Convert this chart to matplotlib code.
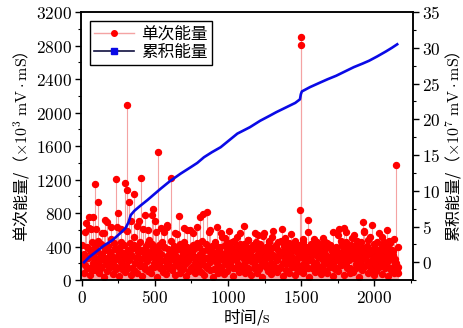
import numpy as np
import matplotlib
matplotlib.use("Agg")
import matplotlib.pyplot as plt
from matplotlib.lines import Line2D
from matplotlib.ticker import MultipleLocator, FuncFormatter

plt.rcParams['font.family'] = ['Noto Sans CJK SC', 'DejaVu Sans']
plt.rcParams['mathtext.fontset'] = 'cm'

# single-event energy: dense background, sampled every 10 s
bg_a = [240, 310, 180, 390, 260, 150, 330, 210, 280, 120, 350, 230, 170, 300, 250, 410, 190, 270, 140, 320,
        260, 200, 380, 160, 290, 340, 220, 130, 310, 270, 180, 360, 240, 300, 150, 420, 210, 280, 330, 190,
        250, 350, 170, 300, 230, 440, 280, 150, 320, 210, 370, 260, 190, 310, 240, 140, 390, 220, 290, 180,
        330, 250, 160, 300, 210, 370, 270, 140, 240, 310, 190, 350, 230, 280, 150, 320, 260, 200, 410, 170,
        290, 230, 340, 180, 270, 150, 360, 220, 300, 250, 130, 320, 200, 280, 390, 160, 240, 310, 190, 260,
        350, 210, 280, 140, 320, 240, 190, 300, 430, 170, 260, 220, 340, 150, 290, 230, 380, 200, 270, 160,
        310, 250, 180, 360, 220, 290, 140, 330, 260, 200, 300, 170, 400, 240, 280, 150, 320, 210, 350, 190,
        270, 230, 310, 160, 380, 250, 200, 340, 290, 420, 180, 260, 320, 220, 150, 360, 240, 300, 190, 330,
        210, 280, 150, 340, 250, 190, 310, 230, 400, 170, 290, 220, 350, 160, 270, 240, 320, 180, 390, 260,
        200, 330, 240, 150, 300, 270, 410, 190, 260, 340, 220, 160, 380, 250, 290, 180, 320, 230, 360, 210,
        280, 170, 340, 240, 300, 190, 370, 260, 220, 310, 150, 280, 350, 230, 190, 120, 80]
t_a = np.arange(5, 5 + 10 * len(bg_a), 10)

# mid-level events, every 10 s (offset)
bg_c = [420, 300, 580, 260, 380, 620, 330, 450, 280, 400, 350, 470, 270, 430, 310, 560, 360, 240, 410, 340,
        490, 290, 440, 370, 640, 250, 390, 460, 320, 420, 280, 590, 350, 440, 300, 380, 520, 260, 400, 330,
        450, 360, 610, 280, 410, 340, 480, 300, 430, 380, 260, 570, 350, 420, 310, 460, 390, 240, 660, 370,
        330, 470, 290, 410, 360, 550, 270, 430, 380, 320, 460, 250, 400, 350, 600, 300, 420, 370, 280, 440,
        390, 310, 470, 350, 260, 430, 380, 580, 290, 410, 340, 460, 270, 400, 360, 320, 520, 250, 420, 370,
        300, 440, 380, 260, 470, 340, 410, 290, 560, 360, 320, 430, 270, 390, 480, 310, 350, 420, 280, 450,
        370, 290, 430, 350, 530, 260, 400, 330, 450, 310, 380, 590, 280, 420, 360, 300, 470, 340, 410, 260,
        440, 320, 390, 550, 280, 360, 430, 250, 410, 370, 300, 460, 340, 400, 270, 580, 350, 420, 310, 390,
        360, 450, 280, 410, 330, 500, 290, 380, 440, 260, 420, 350, 570, 310, 390, 340, 610, 270, 430, 370,
        300, 460, 380, 270, 420, 350, 540, 310, 400, 360, 280, 450, 330, 590, 290, 410, 380, 520, 340, 260,
        430, 370, 300, 560, 350, 410, 280, 460, 330, 390, 270, 440, 360, 300, 250, 200, 160]
t_c = np.arange(0, 10 * len(bg_c), 10)

# low-level events, every 20 s
bg_b = [90, 150, 60, 120, 170, 80, 140, 40, 110, 160, 70, 130, 50, 180, 100, 140, 60, 120, 90, 170,
        50, 130, 110, 80, 160, 40, 140, 100, 70, 150, 120, 60, 180, 90, 130, 50, 110, 160, 80, 140,
        100, 60, 170, 120, 40, 150, 90, 130, 70, 110, 180, 50, 140, 100, 160, 80, 120, 60, 150, 90,
        130, 40, 170, 110, 70, 140, 100, 160, 50, 120, 90, 180, 60, 130, 110, 80, 150, 40, 140, 100,
        170, 70, 120, 90, 160, 50, 130, 110, 180, 60, 140, 80, 100, 150, 40, 120, 170, 90, 130, 60,
        110, 160, 70, 140, 50, 120, 90, 150]
t_b = np.arange(15, 15 + 20 * len(bg_b), 20)

# larger events
peak_t = [27, 50, 60, 77, 88, 95, 113, 140, 159, 175, 200, 231, 247, 270, 295, 310, 311, 326, 340, 356,
          375, 390, 408, 435, 455, 480, 485, 500, 521, 540, 565, 580, 610, 640, 662, 700, 720, 760, 790,
          809, 832, 854, 880, 922, 950, 980, 1006, 1030, 1060, 1108, 1140, 1183, 1206, 1246, 1280, 1303,
          1340, 1369, 1388, 1420, 1460, 1489, 1496, 1500, 1510, 1545, 1570, 1590, 1630, 1660, 1700, 1749,
          1770, 1795, 1805, 1850, 1880, 1924, 1930, 1960, 1987, 2020, 2055, 2085, 2100, 2135, 2150, 2160]
peak_v = [680, 751, 612, 751, 1150, 612, 927, 560, 723, 690, 640, 1210, 807, 610, 1162, 2097, 1078, 931, 700, 1031,
          650, 700, 1218, 780, 600, 780, 851, 700, 1528, 620, 580, 640, 1218, 560, 768, 620, 600, 560, 640,
          751, 792, 811, 600, 631, 560, 500, 592, 460, 520, 648, 480, 560, 540, 560, 470, 520,
          460, 612, 500, 440, 470, 843, 2805, 2904, 490, 712, 430, 490, 430, 460, 420, 544,
          470, 624, 580, 500, 470, 691, 580, 480, 664, 460, 512, 600, 470, 492, 1370, 400]

# cumulative energy (x10^7)
cum_t = [16, 50, 100, 150, 210, 260, 300, 320, 335, 360, 400, 449, 500, 540, 600, 676, 745, 790, 836,
         890, 950, 1010, 1064, 1150, 1220, 1285, 1330, 1400, 1460, 1492, 1498, 1505, 1560, 1625, 1680,
         1740, 1800, 1860, 1920, 1965, 2020, 2080, 2120, 2157]
cum_v = [0.0, 0.7, 1.5, 2.3, 3.1, 4.0, 4.8, 5.6, 6.6, 7.2, 7.9, 8.7, 9.6, 10.3, 11.3, 12.4, 13.3, 13.9, 14.7,
         15.4, 16.1, 17.1, 18.0, 18.9, 19.8, 20.5, 21.0, 21.7, 22.3, 22.8, 23.5, 23.9, 24.5, 25.1, 25.6,
         26.1, 26.7, 27.3, 27.8, 28.2, 28.8, 29.5, 30.0, 30.5]

ev_t = np.concatenate([t_b, t_a, t_c, peak_t])
ev_v = np.concatenate([bg_b, bg_a, bg_c, peak_v])

fig = plt.figure(figsize=(4.63, 3.28), dpi=100)
ax = fig.add_axes([0.175, 0.146, 0.717, 0.817])
ax2 = ax.twinx()

stem_c = '#f4a3a3'
ax.vlines(ev_t, 0, ev_v, color=stem_c, lw=0.8)
ax.plot(ev_t, ev_v, 'o', color='#ff0000', ms=4.3, mec='#ff0000', ls='none')

ax2.plot(cum_t, cum_v, color='#0a0ae6', lw=1.9)

ax.set_xlim(-5, 2265)
ax.set_ylim(0, 3200)
ax2.set_ylim(-2.5, 35)

ax.xaxis.set_major_locator(MultipleLocator(500))
ax.xaxis.set_minor_locator(MultipleLocator(250))
ax.yaxis.set_major_locator(MultipleLocator(400))
ax.yaxis.set_minor_locator(MultipleLocator(200))
ax2.yaxis.set_major_locator(MultipleLocator(5))
ax2.yaxis.set_minor_locator(MultipleLocator(2.5))

fmt = FuncFormatter(lambda v, p: r'$%d$' % round(v))
for a in (ax.xaxis, ax.yaxis, ax2.yaxis):
    a.set_major_formatter(fmt)

for a in (ax, ax2):
    a.tick_params(which='major', length=4.5, width=1, labelsize=12.5, direction='out')
    a.tick_params(which='minor', length=2.5, width=0.8, direction='out')
    for s in a.spines.values():
        s.set_linewidth(1.1)
ax.tick_params(axis='x', pad=2)
ax.tick_params(axis='y', pad=2)
ax2.tick_params(axis='y', pad=2)

ax.set_xlabel('时间/$\\mathrm{s}$', fontsize=12, labelpad=0)
ax.set_ylabel('单次能量/（$\\times10^{3}\\ \\mathrm{mV\\cdot mS}$）', fontsize=11.5, labelpad=3)
ax2.set_ylabel('累积能量/（$\\times10^{7}\\ \\mathrm{mV\\cdot mS}$）', fontsize=11.5, labelpad=2)

handles = [Line2D([], [], color=stem_c, lw=1, marker='o', ms=4, mfc='#ff0000', mec='#ff0000'),
           Line2D([], [], color='#101040', lw=1.2, marker='s', ms=4, mfc='#0a0ae6', mec='#0a0ae6')]
leg = ax2.legend(handles, ['单次能量', '累积能量'], loc='upper left', fontsize=12,
                 frameon=True, fancybox=False, edgecolor='black', framealpha=1,
                 handlelength=2.4, borderaxespad=0.55, borderpad=0.25, labelspacing=0.1,
                 handletextpad=0.4)
leg.get_frame().set_linewidth(1)

fig.savefig('out.png', dpi=100)
